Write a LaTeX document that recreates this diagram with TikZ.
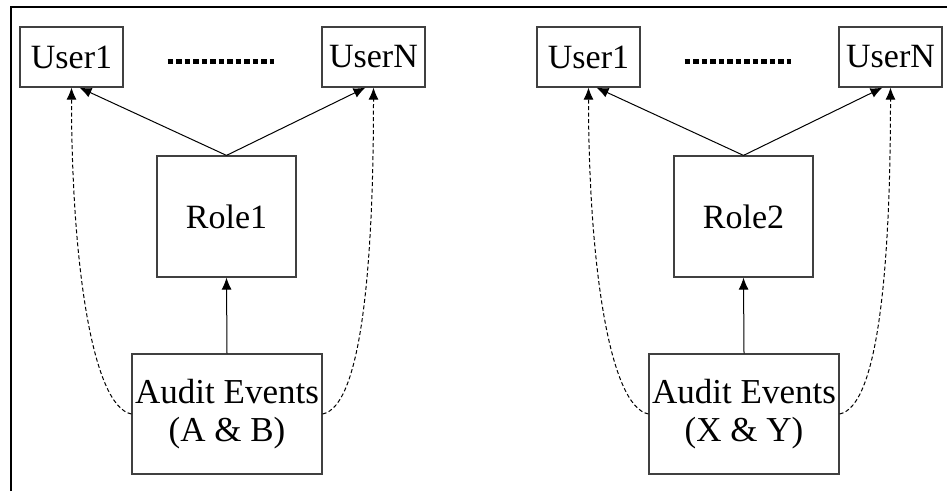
\documentclass[tikz,border=0pt]{standalone}
\usepackage{fontspec}
\setmainfont{Liberation Serif}
\usetikzlibrary{arrows.meta,positioning,calc}

\begin{document}
\begin{tikzpicture}[x=1pt,y=-1pt,
    box/.style={draw=black!75,line width=1.2pt,inner sep=0pt,font=\fontsize{34}{38}\selectfont},
    userbox/.style={box,minimum width=103pt,minimum height=60pt},
    rolebox/.style={box,minimum width=139pt,minimum height=121pt},
    eventbox/.style={box,minimum width=190pt,minimum height=120pt,align=center,font=\fontsize{35}{38}\selectfont},
    link/.style={line width=1pt,-{Latex[length=12pt,width=10pt]}},
    audit/.style={link,dash pattern=on 4pt off 2.5pt}]
  \useasboundingbox (0,0) rectangle (947,491);
  % outer frame (only top and left are visible)
  \draw[line width=1.4pt] (11,491) -- (11,7) -- (947,7);
  \foreach \g/\dx/\role/\ev in {a/0/Role1/{(A \& B)},b/517/Role2/{(X \& Y)}}{
    \node[userbox] (user1\g) at (71.5+\dx,57) {User1};
    \node[userbox] (userN\g) at (373.5+\dx,57) {UserN};
    \node[rolebox] (role\g) at (226.5+\dx,216.5) {\role};
    \node[eventbox] (event\g) at (227+\dx,414) {Audit Events\\\ev};
    \draw[line width=5pt,dash pattern=on 5.5pt off 3pt] ([xshift=44,yshift=-4]user1\g.east)
      -- ([xshift=-47,yshift=-4]userN\g.west);
    \draw[link] (role\g.north) -- ([xshift=8]user1\g.south);
    \draw[link] (role\g.north) -- ([xshift=-8]userN\g.south);
    \draw[link] (event\g.north) -- (role\g.south);
    \draw[audit] (event\g.west) .. controls +(-40,-8) and +(0,170) .. (user1\g.south);
    \draw[audit] (event\g.east) .. controls +(40,-8) and +(0,170) .. (userN\g.south);
  }
\end{tikzpicture}
\end{document}
